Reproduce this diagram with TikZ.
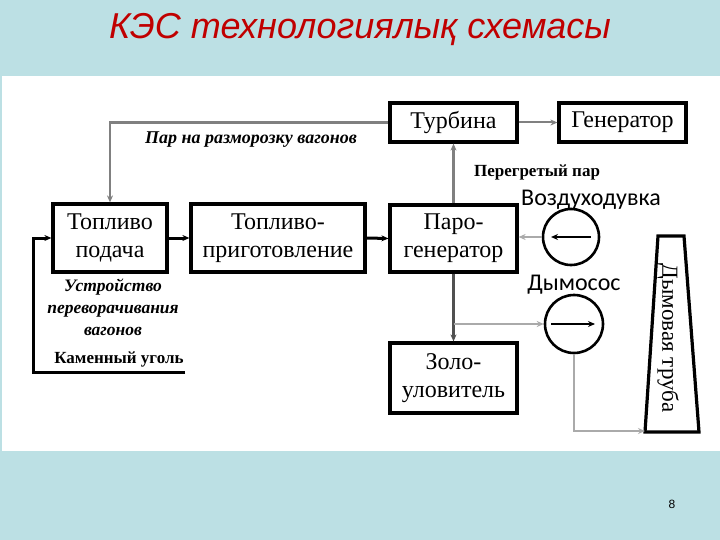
\documentclass[tikz,border=0pt]{standalone}
\usepackage{fontspec}
\setmainfont{Liberation Serif}
\newfontfamily\sansfnt{Liberation Sans}
\newfontfamily\calfnt{Carlito}
\usetikzlibrary{arrows.meta}
\definecolor{bgblue}{RGB}{188,224,228}
\definecolor{titlered}{RGB}{192,0,0}
\definecolor{midgray}{RGB}{128,128,128}
\definecolor{lightgray2}{RGB}{170,170,170}
\definecolor{darkgray2}{RGB}{80,80,80}
\tikzset{
  blk/.style={draw=black,line width=3.2pt,minimum width=#1,inner sep=0pt,align=center,font=\fontsize{24}{28}\selectfont},
  tip/.style={-{Stealth[length=7pt,width=6pt]}},
  fuel/.style={tip,line width=3pt,black},
  steam/.style={tip,line width=2.2pt,midgray},
  gas/.style={tip,line width=2pt,lightgray2},
  fan/.style={draw=black,line width=2.6pt,circle,inner sep=0pt},
  lbl/.style={font=\fontsize{17}{21}\selectfont\bfseries,align=center,inner sep=0pt},
}
\begin{document}
\begin{tikzpicture}[x=1pt,y=-1pt]
\useasboundingbox (0,0) rectangle (720,540);
\fill[bgblue] (0,0) rectangle (720,540);
\fill[white] (2,76) rectangle (720,451);
\node[font=\sansfnt\itshape\fontsize{36}{40}\selectfont,text=titlered] (title) at (360,30) {КЭС технологиялық схемасы};
\node[font=\sansfnt\fontsize{12}{14}\selectfont] (pnum) at (672,504) {8};

% boxes
\node[blk=127pt,minimum height=39pt] (turb) at (453.5,122.5) {Турбина};
\node[blk=127pt,minimum height=39pt] (gen) at (622.5,122.5) {Генератор};
\node[blk=127pt,minimum height=67pt] (pg) at (453.5,238.5) {Паро-\\генератор};
\node[blk=114pt,minimum height=68pt] (fs) at (110,238) {Топливо\\подача};
\node[blk=174pt,minimum height=68pt] (fp) at (278,238) {Топливо-\\приготовление};
\node[blk=127pt,minimum height=70pt] (zu) at (453.5,378) {Золо-\\уловитель};

% fans
\node[fan,minimum size=56pt] (vd) at (571,237) {};
\node[fan,minimum size=58pt] (dm) at (574,324) {};
\draw[tip,line width=2.6pt] (591,237) -- (551,237);
\draw[tip,line width=2.6pt] (551,324) -- (595,324);

% chimney
\draw[line width=3.2pt,line join=miter] (658,236) -- (684,236) -- (699,432) -- (645,432) -- cycle;
\coordinate (chb) at (645,431);
\node[rotate=-90,font=\fontsize{23}{26}\selectfont] (chtext) at (668,338) {Дымовая труба};

% labels
\node[lbl,font=\fontsize{18}{21}\selectfont\bfseries\itshape] (l1) at (251,140) {Пар на разморозку вагонов};
\node[lbl] (l2) at (537,172) {Перегретый пар};
\node[font=\calfnt\fontsize{24}{28}\selectfont,inner sep=0pt] (l3) at (591,200) {Воздуходувка};
\node[font=\calfnt\fontsize{24}{28}\selectfont,inner sep=0pt] (l4) at (574,285) {Дымосос};
\node[lbl,font=\fontsize{17.5}{22}\selectfont\bfseries\itshape] (l5) at (113,307) {Устройство\\переворачивания\\вагонов};
\node[lbl] (l6) at (119,359) {Каменный уголь};

% connectors
\draw[tip,line width=2pt,midgray] (turb.east) -- (gen.west);
\draw[steam] (turb.west) -| (fs.north);
\draw[steam] (pg.north) -- (turb.south);
\draw[fuel] (fs.east) -- (fp.west);
\draw[fuel] (fp.east) -- (pg.west);
\draw[tip,line width=2.4pt,lightgray2] (vd.west) -- (vd.west -| pg.east);
\draw[tip,line width=2.8pt,darkgray2] (pg.south) -- (zu.north);
\coordinate (br) at (453.5,324);
\draw[gas] (br) -- (dm.west);
\draw[gas] (dm.south) |- (chb);
\coordinate (coal) at (185,372);
\draw[fuel] (coal) -- (33,372) |- (fs.west);
\end{tikzpicture}
\end{document}
